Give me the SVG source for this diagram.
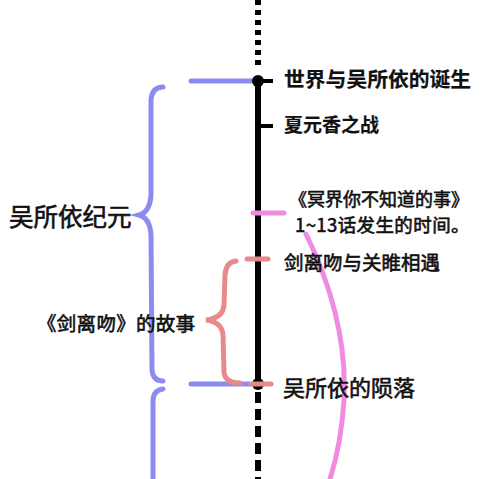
<svg xmlns="http://www.w3.org/2000/svg" width="500" height="479" viewBox="0 0 500 479">
<style>
.t{font-family:"Noto Sans CJK SC","Noto Sans",sans-serif;fill:#111;stroke:#111;stroke-width:0.6}
.b{font-weight:bold;stroke-width:0.2}
.blue{stroke:#8c8cf0;stroke-width:5;fill:none;stroke-linecap:round}
.red{stroke:#e88a8a;stroke-width:5;fill:none;stroke-linecap:round}
.pink{stroke:#ee8ce0;stroke-width:5;fill:none;stroke-linecap:round}
.blk{stroke:#000;stroke-width:6;fill:none}
</style>
<rect width="500" height="479" fill="#fff"/>
<g id="connectors">
<line class="blk" x1="258" y1="0" x2="258" y2="68" stroke-dasharray="5 5"/>
<line class="blk" x1="258" y1="76" x2="258" y2="388"/>
<line class="blk" x1="258" y1="392" x2="258" y2="479" stroke-dasharray="11 6"/>
<line class="blue" x1="191" y1="81" x2="256" y2="81"/>
<line class="blue" x1="191" y1="384" x2="250" y2="384"/>
<path class="blue" d="M163,87 Q152,87 151,100 L151,195 Q150,212 139,215 Q150,218 151,235 L152,370 Q153,381 163,381"/>
<path class="blue" d="M163,389 Q153,390 153,402 L153,479"/>
<path class="red" d="M236,261 Q226,262 225,275 L224,305 Q223,318 206,320 Q222,322 223,335 L224,372 Q225,383 240,383"/>
<path class="pink" d="M306,234 Q348,320 344,400 Q341,445 330,479"/>
</g>
<g id="n1">
<circle cx="258" cy="81" r="6" fill="#000"/>
<line x1="258" y1="81" x2="273" y2="81" stroke="#000" stroke-width="4"/>
<text class="t b" x="284" y="87" font-size="20.8">世界与吴所依的诞生</text>
</g>
<g id="n2">
<line x1="258" y1="126" x2="273" y2="126" stroke="#000" stroke-width="4"/>
<text class="t b" x="284" y="132" font-size="19">夏元香之战</text>
</g>
<g id="n3">
<line class="pink" x1="253" y1="213" x2="284" y2="213" stroke-width="6"/>
<text class="t" x="289" y="206" font-size="18">《冥界你不知道的事》</text>
<text class="t" x="295" y="232" font-size="18.5" letter-spacing="0.4">1~13话发生的时间。</text>
</g>
<g id="n4">
<line class="red" x1="247" y1="259" x2="268" y2="259"/>
<text class="t" x="284" y="270" font-size="19.5">剑离吻与关睢相遇</text>
</g>
<g id="n5">
<circle cx="258" cy="384" r="6" fill="#000"/>
<line class="red" x1="251" y1="384" x2="271" y2="384"/>
<text class="t" x="283" y="396" font-size="22">吴所依的陨落</text>
</g>
<g id="era">
<text class="t" x="9" y="226" font-size="24.5">吴所依纪元</text>
</g>
<g id="story">
<text class="t" x="37" y="331" font-size="19.5" letter-spacing="0.3">《剑离吻》的故事</text>
</g>
</svg>
